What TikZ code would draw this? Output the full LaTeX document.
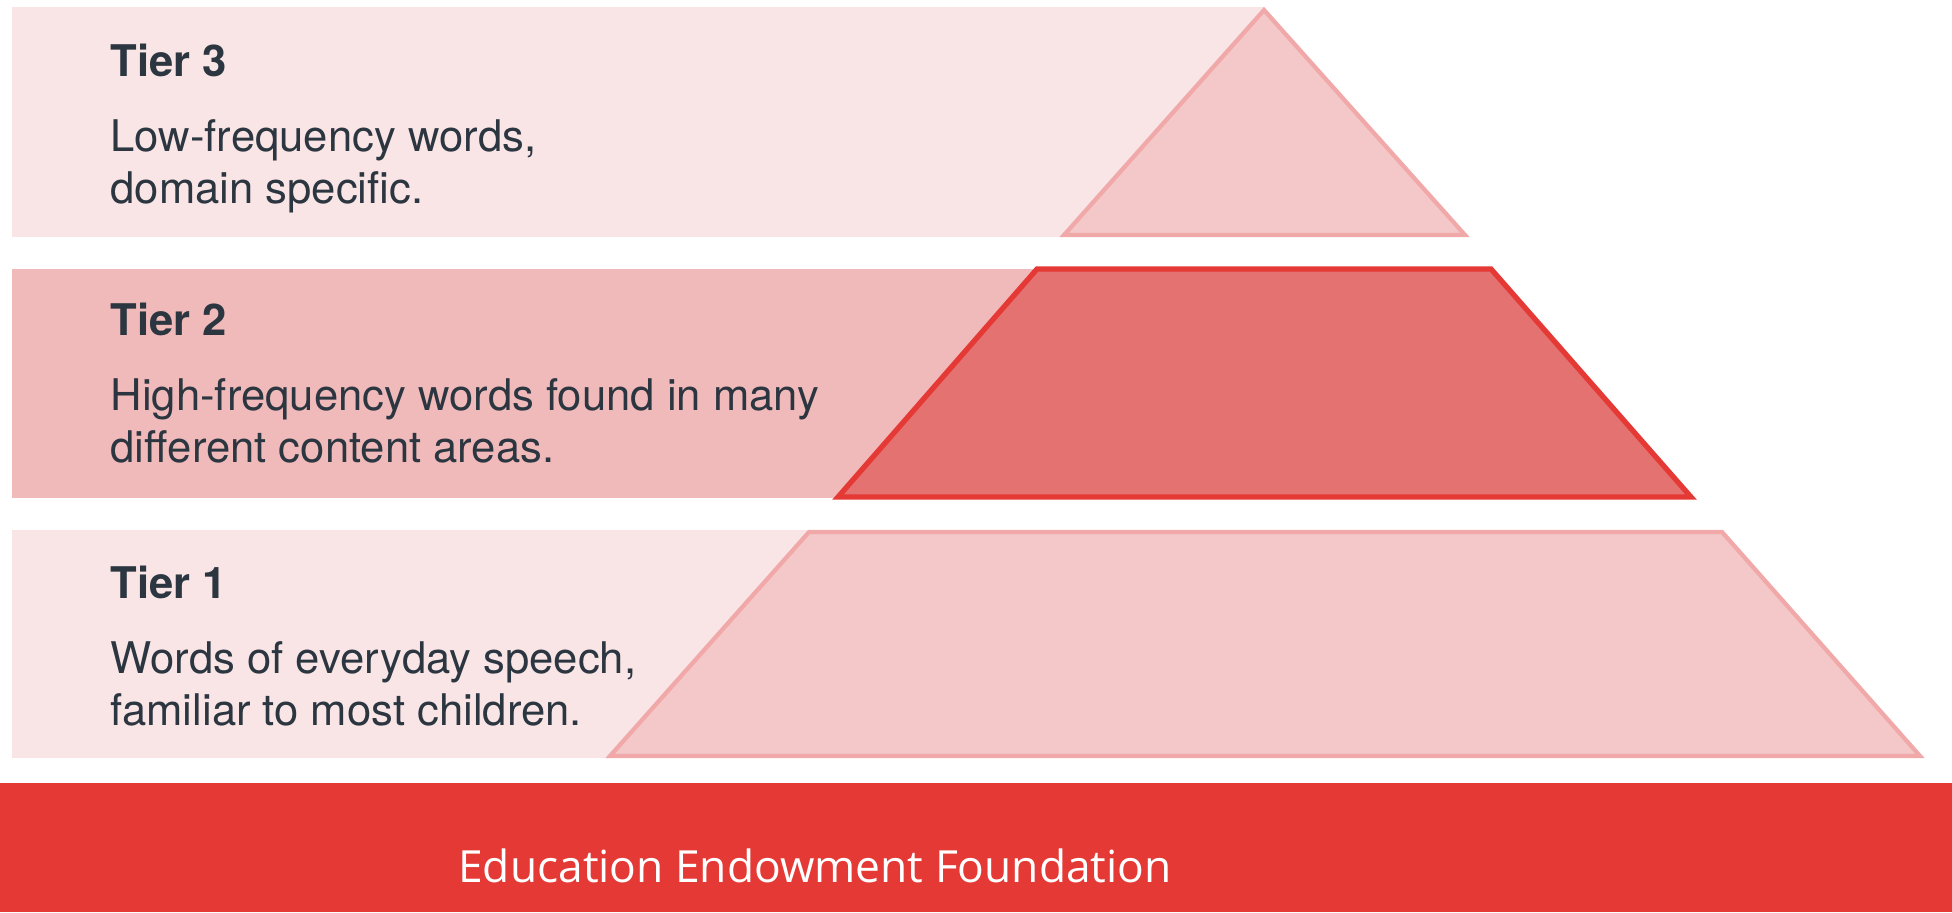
\documentclass[tikz,border=0pt]{standalone}
\usepackage{fontspec}
\setmainfont{TeX Gyre Heros}
\newfontfamily\eeffont{Open Sans}
\usepackage{xcolor}
\usetikzlibrary{positioning}

\definecolor{bandlight}{RGB}{249,229,230}
\definecolor{bandmid}{RGB}{240,186,186}
\definecolor{palefill}{RGB}{244,199,200}
\definecolor{paleedge}{RGB}{241,168,168}
\definecolor{hotfill}{RGB}{228,114,113}
\definecolor{eefred}{RGB}{229,57,53}
\definecolor{slatetext}{RGB}{44,54,64}

\begin{document}
\begin{tikzpicture}[
    x=0.01cm, y=-0.01cm,
    pyramidpale/.style={fill=palefill, draw=paleedge, line width=1.2pt, line join=miter},
    pyramidhot/.style={fill=hotfill, draw=eefred, line width=1.5pt, line join=miter},
    tiertext/.style={anchor=north west, inner sep=0pt, align=left, text=slatetext,
        font=\fontsize{12.4pt}{14.8pt}\selectfont},
    footertext/.style={anchor=center, inner sep=0pt, text=white,
        font=\eeffont\fontsize{12.6pt}{15pt}\selectfont}
]
\useasboundingbox (0,0) rectangle (1952,912);

% Bands
\fill[bandlight] (12,7) rectangle (1264,237);
\fill[bandmid] (12,269) rectangle (1037,498);
\fill[bandlight] (12,530) rectangle (809,758);

% Pyramid
\draw[pyramidpale] (1264,10) -- (1465,235) -- (1064,235) -- cycle;
\draw[pyramidhot] (1037,269) -- (1491,269) -- (1691,497) -- (838,497) -- cycle;
\draw[pyramidpale] (809,532) -- (1722,532) -- (1920,756) -- (610,756) -- cycle;

% Tier texts
\node[tiertext] (tier3) at (110,43) {\textbf{Tier 3}\\[0.23cm]Low-frequency words,\\domain specific.};
\node[tiertext] (tier2) at (110,302) {\textbf{Tier 2}\\[0.23cm]High-frequency words found in many\\different content areas.};
\node[tiertext] (tier1) at (110,565) {\textbf{Tier 1}\\[0.23cm]Words of everyday speech,\\familiar to most children.};

% Footer
\fill[eefred] (0,783) rectangle (1952,912);
\node[footertext] (eef) at (815,866) {Education Endowment Foundation};

\end{tikzpicture}
\end{document}
